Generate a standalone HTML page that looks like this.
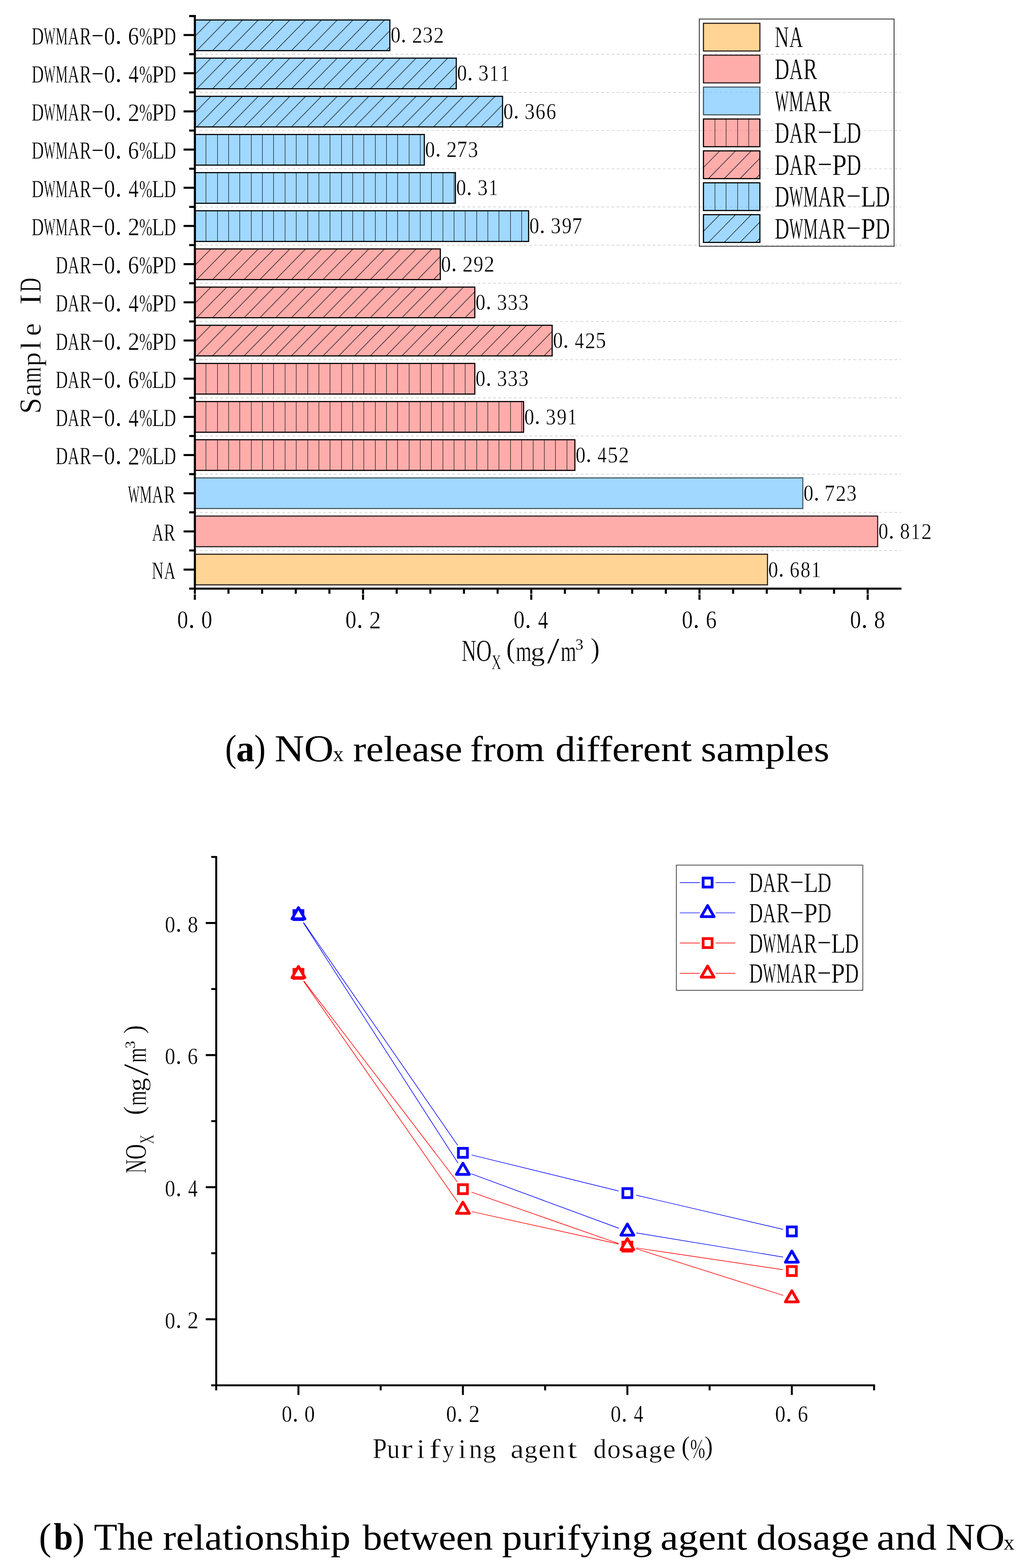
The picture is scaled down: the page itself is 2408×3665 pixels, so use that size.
<!DOCTYPE html>
<html lang="en">
<head>
<meta charset="utf-8">
<title>NOx release from different samples</title>
<style>
html,body{margin:0;padding:0;background:#fff}
body{width:2408px;height:3665px;overflow:hidden}
svg{display:block}
svg text{font-family:"Liberation Serif","Noto Serif CJK SC",serif;white-space:pre}
</style>
</head>
<body>
<svg width="2408" height="3665" viewBox="0 0 2408 3665">
<rect width="2408" height="3665" fill="#fff"/>
<defs>
<pattern id="hd" patternUnits="userSpaceOnUse" x="457.5" y="0" width="36.9" height="37.7"><path d="M-2 39.74L38.9 -2.04M-20.45 20.89L20.45 -20.89M16.45 58.59L57.35 16.81" stroke="#0a1014" stroke-width="1.25" fill="none"/></pattern>
</defs>
<g id="chart-a">
<rect x="455.5" y="45.45" width="457.18" height="74.2" fill="#a1d8ff"/>
<g transform="translate(0,45.45)"><rect x="455.5" y="1" width="456.18" height="72.2" fill="url(#hd)"/></g>
<rect x="456.8" y="46.75" width="454.58" height="71.6" fill="none" stroke="#000" stroke-width="2.6"/>
<rect x="455.5" y="134.64" width="612.52" height="74.2" fill="#a1d8ff"/>
<g transform="translate(0,134.64)"><rect x="455.5" y="1" width="611.52" height="72.2" fill="url(#hd)"/></g>
<rect x="456.8" y="135.94" width="609.92" height="71.6" fill="none" stroke="#000" stroke-width="2.6"/>
<rect x="455.5" y="223.83" width="720.67" height="74.2" fill="#a1d8ff"/>
<g transform="translate(0,223.83)"><rect x="455.5" y="1" width="719.67" height="72.2" fill="url(#hd)"/></g>
<rect x="456.8" y="225.13" width="718.07" height="71.6" fill="none" stroke="#000" stroke-width="2.6"/>
<rect x="455.5" y="313.02" width="537.8" height="74.2" fill="#a1d8ff"/>
<path d="M481.5 314.02V386.22M508.5 314.02V386.22M534.5 314.02V386.22M560.5 314.02V386.22M587.5 314.02V386.22M613.5 314.02V386.22M639.5 314.02V386.22M666.5 314.02V386.22M692.5 314.02V386.22M719.5 314.02V386.22M745.5 314.02V386.22M771.5 314.02V386.22M798.5 314.02V386.22M824.5 314.02V386.22M850.5 314.02V386.22M877.5 314.02V386.22M903.5 314.02V386.22M929.5 314.02V386.22M956.5 314.02V386.22M982.5 314.02V386.22" stroke="#0a1014" stroke-width="1.1" fill="none"/>
<rect x="456.8" y="314.32" width="535.2" height="71.6" fill="none" stroke="#000" stroke-width="2.6"/>
<rect x="455.5" y="402.21" width="610.55" height="74.2" fill="#a1d8ff"/>
<path d="M481.5 403.21V475.41M508.5 403.21V475.41M534.5 403.21V475.41M560.5 403.21V475.41M587.5 403.21V475.41M613.5 403.21V475.41M639.5 403.21V475.41M666.5 403.21V475.41M692.5 403.21V475.41M719.5 403.21V475.41M745.5 403.21V475.41M771.5 403.21V475.41M798.5 403.21V475.41M824.5 403.21V475.41M850.5 403.21V475.41M877.5 403.21V475.41M903.5 403.21V475.41M929.5 403.21V475.41M956.5 403.21V475.41M982.5 403.21V475.41M1008.5 403.21V475.41M1035.5 403.21V475.41M1061.5 403.21V475.41" stroke="#0a1014" stroke-width="1.1" fill="none"/>
<rect x="456.8" y="403.51" width="607.95" height="71.6" fill="none" stroke="#000" stroke-width="2.6"/>
<rect x="455.5" y="491.4" width="781.62" height="74.2" fill="#a1d8ff"/>
<path d="M481.5 492.4V564.6M508.5 492.4V564.6M534.5 492.4V564.6M560.5 492.4V564.6M587.5 492.4V564.6M613.5 492.4V564.6M639.5 492.4V564.6M666.5 492.4V564.6M692.5 492.4V564.6M719.5 492.4V564.6M745.5 492.4V564.6M771.5 492.4V564.6M798.5 492.4V564.6M824.5 492.4V564.6M850.5 492.4V564.6M877.5 492.4V564.6M903.5 492.4V564.6M929.5 492.4V564.6M956.5 492.4V564.6M982.5 492.4V564.6M1008.5 492.4V564.6M1035.5 492.4V564.6M1061.5 492.4V564.6M1087.5 492.4V564.6M1114.5 492.4V564.6M1140.5 492.4V564.6M1166.5 492.4V564.6M1193.5 492.4V564.6M1219.5 492.4V564.6" stroke="#0a1014" stroke-width="1.1" fill="none"/>
<rect x="456.8" y="492.7" width="779.02" height="71.6" fill="none" stroke="#000" stroke-width="2.6"/>
<rect x="455.5" y="580.59" width="575.16" height="74.2" fill="#ffadab"/>
<g transform="translate(0,580.59)"><rect x="455.5" y="1" width="574.16" height="72.2" fill="url(#hd)"/></g>
<rect x="456.8" y="581.89" width="572.56" height="71.6" fill="none" stroke="#000" stroke-width="2.6"/>
<rect x="455.5" y="669.78" width="655.78" height="74.2" fill="#ffadab"/>
<g transform="translate(0,669.78)"><rect x="455.5" y="1" width="654.78" height="72.2" fill="url(#hd)"/></g>
<rect x="456.8" y="671.08" width="653.18" height="71.6" fill="none" stroke="#000" stroke-width="2.6"/>
<rect x="455.5" y="758.97" width="836.68" height="74.2" fill="#ffadab"/>
<g transform="translate(0,758.97)"><rect x="455.5" y="1" width="835.68" height="72.2" fill="url(#hd)"/></g>
<rect x="456.8" y="760.27" width="834.08" height="71.6" fill="none" stroke="#000" stroke-width="2.6"/>
<rect x="455.5" y="848.16" width="655.78" height="74.2" fill="#ffadab"/>
<path d="M481.5 849.16V921.36M508.5 849.16V921.36M534.5 849.16V921.36M560.5 849.16V921.36M587.5 849.16V921.36M613.5 849.16V921.36M639.5 849.16V921.36M666.5 849.16V921.36M692.5 849.16V921.36M719.5 849.16V921.36M745.5 849.16V921.36M771.5 849.16V921.36M798.5 849.16V921.36M824.5 849.16V921.36M850.5 849.16V921.36M877.5 849.16V921.36M903.5 849.16V921.36M929.5 849.16V921.36M956.5 849.16V921.36M982.5 849.16V921.36M1008.5 849.16V921.36M1035.5 849.16V921.36M1061.5 849.16V921.36M1087.5 849.16V921.36" stroke="#0a1014" stroke-width="1.1" fill="none"/>
<rect x="456.8" y="849.46" width="653.18" height="71.6" fill="none" stroke="#000" stroke-width="2.6"/>
<rect x="455.5" y="937.35" width="769.82" height="74.2" fill="#ffadab"/>
<path d="M481.5 938.35V1010.55M508.5 938.35V1010.55M534.5 938.35V1010.55M560.5 938.35V1010.55M587.5 938.35V1010.55M613.5 938.35V1010.55M639.5 938.35V1010.55M666.5 938.35V1010.55M692.5 938.35V1010.55M719.5 938.35V1010.55M745.5 938.35V1010.55M771.5 938.35V1010.55M798.5 938.35V1010.55M824.5 938.35V1010.55M850.5 938.35V1010.55M877.5 938.35V1010.55M903.5 938.35V1010.55M929.5 938.35V1010.55M956.5 938.35V1010.55M982.5 938.35V1010.55M1008.5 938.35V1010.55M1035.5 938.35V1010.55M1061.5 938.35V1010.55M1087.5 938.35V1010.55M1114.5 938.35V1010.55M1140.5 938.35V1010.55M1166.5 938.35V1010.55M1193.5 938.35V1010.55M1219.5 938.35V1010.55" stroke="#0a1014" stroke-width="1.1" fill="none"/>
<rect x="456.8" y="938.65" width="767.22" height="71.6" fill="none" stroke="#000" stroke-width="2.6"/>
<rect x="455.5" y="1026.54" width="889.77" height="74.2" fill="#ffadab"/>
<path d="M481.5 1027.54V1099.74M508.5 1027.54V1099.74M534.5 1027.54V1099.74M560.5 1027.54V1099.74M587.5 1027.54V1099.74M613.5 1027.54V1099.74M639.5 1027.54V1099.74M666.5 1027.54V1099.74M692.5 1027.54V1099.74M719.5 1027.54V1099.74M745.5 1027.54V1099.74M771.5 1027.54V1099.74M798.5 1027.54V1099.74M824.5 1027.54V1099.74M850.5 1027.54V1099.74M877.5 1027.54V1099.74M903.5 1027.54V1099.74M929.5 1027.54V1099.74M956.5 1027.54V1099.74M982.5 1027.54V1099.74M1008.5 1027.54V1099.74M1035.5 1027.54V1099.74M1061.5 1027.54V1099.74M1087.5 1027.54V1099.74M1114.5 1027.54V1099.74M1140.5 1027.54V1099.74M1166.5 1027.54V1099.74M1193.5 1027.54V1099.74M1219.5 1027.54V1099.74M1246.5 1027.54V1099.74M1272.5 1027.54V1099.74M1298.5 1027.54V1099.74M1325.5 1027.54V1099.74" stroke="#0a1014" stroke-width="1.1" fill="none"/>
<rect x="456.8" y="1027.84" width="887.17" height="71.6" fill="none" stroke="#000" stroke-width="2.6"/>
<rect x="455.5" y="1115.73" width="1422.63" height="74.2" fill="#a1d8ff"/>
<rect x="456.8" y="1117.03" width="1420.03" height="71.6" fill="none" stroke="#4a5a66" stroke-width="2.6"/>
<rect x="455.5" y="1204.92" width="1597.64" height="74.2" fill="#ffadab"/>
<rect x="456.8" y="1206.22" width="1595.04" height="71.6" fill="none" stroke="#2a2020" stroke-width="2.6"/>
<rect x="455.5" y="1294.11" width="1340.05" height="74.2" fill="#ffd494"/>
<rect x="456.8" y="1295.41" width="1337.45" height="71.6" fill="none" stroke="#2a2020" stroke-width="2.6"/>
<line x1="455.25" y1="126.8" x2="2107" y2="126.8" stroke="#d2d2d2" stroke-width="1.7" stroke-dasharray="6.3 5.73"/>
<line x1="455.25" y1="216.03" x2="2107" y2="216.03" stroke="#d2d2d2" stroke-width="1.7" stroke-dasharray="6.3 5.73"/>
<line x1="455.25" y1="305.26" x2="2107" y2="305.26" stroke="#d2d2d2" stroke-width="1.7" stroke-dasharray="6.3 5.73"/>
<line x1="455.25" y1="394.49" x2="2107" y2="394.49" stroke="#d2d2d2" stroke-width="1.7" stroke-dasharray="6.3 5.73"/>
<line x1="455.25" y1="483.72" x2="2107" y2="483.72" stroke="#d2d2d2" stroke-width="1.7" stroke-dasharray="6.3 5.73"/>
<line x1="455.25" y1="572.95" x2="2107" y2="572.95" stroke="#d2d2d2" stroke-width="1.7" stroke-dasharray="6.3 5.73"/>
<line x1="455.25" y1="662.18" x2="2107" y2="662.18" stroke="#d2d2d2" stroke-width="1.7" stroke-dasharray="6.3 5.73"/>
<line x1="455.25" y1="751.41" x2="2107" y2="751.41" stroke="#d2d2d2" stroke-width="1.7" stroke-dasharray="6.3 5.73"/>
<line x1="455.25" y1="840.64" x2="2107" y2="840.64" stroke="#d2d2d2" stroke-width="1.7" stroke-dasharray="6.3 5.73"/>
<line x1="455.25" y1="929.87" x2="2107" y2="929.87" stroke="#d2d2d2" stroke-width="1.7" stroke-dasharray="6.3 5.73"/>
<line x1="455.25" y1="1019.1" x2="2107" y2="1019.1" stroke="#d2d2d2" stroke-width="1.7" stroke-dasharray="6.3 5.73"/>
<line x1="455.25" y1="1108.33" x2="2107" y2="1108.33" stroke="#d2d2d2" stroke-width="1.7" stroke-dasharray="6.3 5.73"/>
<line x1="455.25" y1="1197.56" x2="2107" y2="1197.56" stroke="#d2d2d2" stroke-width="1.7" stroke-dasharray="6.3 5.73"/>
<line x1="455.25" y1="1286.79" x2="2107" y2="1286.79" stroke="#d2d2d2" stroke-width="1.7" stroke-dasharray="6.3 5.73"/>
<g stroke="#000" stroke-width="4.8" fill="none">
<path d="M455.5 34.9V1378.3"/>
<path d="M453.1 1375.9H2107.5"/>
<path d="M429.2 81.8H455.5M429.2 171.05H455.5M429.2 260.3H455.5M429.2 349.55H455.5M429.2 438.8H455.5M429.2 528.05H455.5M429.2 617.3H455.5M429.2 706.55H455.5M429.2 795.8H455.5M429.2 885.05H455.5M429.2 974.3H455.5M429.2 1063.55H455.5M429.2 1152.8H455.5M429.2 1242.05H455.5M429.2 1331.3H455.5M442.3 37.5H455.5M442.3 126.73H455.5M442.3 215.96H455.5M442.3 305.19H455.5M442.3 394.42H455.5M442.3 483.65H455.5M442.3 572.88H455.5M442.3 662.11H455.5M442.3 751.34H455.5M442.3 840.57H455.5M442.3 929.8H455.5M442.3 1019.03H455.5M442.3 1108.26H455.5M442.3 1197.49H455.5M442.3 1286.72H455.5M442.3 1375.95H455.5M455.5 1375.9V1402M534.15 1375.9V1387.8M612.8 1375.9V1387.8M691.46 1375.9V1387.8M770.11 1375.9V1387.8M848.76 1375.9V1402M927.41 1375.9V1387.8M1006.06 1375.9V1387.8M1084.72 1375.9V1387.8M1163.37 1375.9V1387.8M1242.02 1375.9V1402M1320.67 1375.9V1387.8M1399.32 1375.9V1387.8M1477.98 1375.9V1387.8M1556.63 1375.9V1387.8M1635.28 1375.9V1402M1713.93 1375.9V1387.8M1792.58 1375.9V1387.8M1871.24 1375.9V1387.8M1949.89 1375.9V1387.8M2028.54 1375.9V1402"/>
</g>
<path d="M452.5 1388.6h6M845.76 1388.6h6M1239.02 1388.6h6M1632.28 1388.6h6M2025.54 1388.6h6" stroke="#fff" stroke-width="1.3" fill="none"/>
<text font-size="58" fill="#000" stroke="#fff" stroke-width="0.5"><tspan x="73.78" y="103.7" textLength="28.58" lengthAdjust="spacingAndGlyphs">D</tspan><tspan x="102.43" y="103.7" textLength="27.06" lengthAdjust="spacingAndGlyphs">W</tspan><tspan x="129.92" y="103.7" textLength="28.56" lengthAdjust="spacingAndGlyphs">M</tspan><tspan x="158.87" y="103.7" textLength="26.48" lengthAdjust="spacingAndGlyphs">A</tspan><tspan x="186.15" y="103.7" textLength="27.08" lengthAdjust="spacingAndGlyphs">R</tspan><tspan x="212.63" y="92.93" textLength="31.34" lengthAdjust="spacingAndGlyphs" font-size="41.37">-</tspan><tspan x="243.25" y="103.55" textLength="25.69" lengthAdjust="spacingAndGlyphs" font-size="58.3">0</tspan><tspan x="269.37" y="103.04" textLength="15.46" lengthAdjust="spacingAndGlyphs" font-size="66.59">.</tspan><tspan x="299.22" y="103.55" textLength="25.49" lengthAdjust="spacingAndGlyphs" font-size="58.55">6</tspan><tspan x="325.44" y="103.5" textLength="30.61" lengthAdjust="spacingAndGlyphs" font-size="57.59">%</tspan><tspan x="354.43" y="103.7" textLength="28.86" lengthAdjust="spacingAndGlyphs">P</tspan><tspan x="382.88" y="103.7" textLength="28.58" lengthAdjust="spacingAndGlyphs">D</tspan></text>
<text font-size="58" fill="#000" stroke="#fff" stroke-width="0.5"><tspan x="73.78" y="192.95" textLength="28.58" lengthAdjust="spacingAndGlyphs">D</tspan><tspan x="102.43" y="192.95" textLength="27.06" lengthAdjust="spacingAndGlyphs">W</tspan><tspan x="129.92" y="192.95" textLength="28.56" lengthAdjust="spacingAndGlyphs">M</tspan><tspan x="158.87" y="192.95" textLength="26.48" lengthAdjust="spacingAndGlyphs">A</tspan><tspan x="186.15" y="192.95" textLength="27.08" lengthAdjust="spacingAndGlyphs">R</tspan><tspan x="212.63" y="182.18" textLength="31.34" lengthAdjust="spacingAndGlyphs" font-size="41.37">-</tspan><tspan x="243.25" y="192.8" textLength="25.69" lengthAdjust="spacingAndGlyphs" font-size="58.3">0</tspan><tspan x="269.37" y="192.29" textLength="15.46" lengthAdjust="spacingAndGlyphs" font-size="66.59">.</tspan><tspan x="300.49" y="193.37" textLength="23.42" lengthAdjust="spacingAndGlyphs" font-size="59.77">4</tspan><tspan x="325.44" y="192.75" textLength="30.61" lengthAdjust="spacingAndGlyphs" font-size="57.59">%</tspan><tspan x="354.43" y="192.95" textLength="28.86" lengthAdjust="spacingAndGlyphs">P</tspan><tspan x="382.88" y="192.95" textLength="28.58" lengthAdjust="spacingAndGlyphs">D</tspan></text>
<text font-size="58" fill="#000" stroke="#fff" stroke-width="0.5"><tspan x="73.78" y="282.2" textLength="28.58" lengthAdjust="spacingAndGlyphs">D</tspan><tspan x="102.43" y="282.2" textLength="27.06" lengthAdjust="spacingAndGlyphs">W</tspan><tspan x="129.92" y="282.2" textLength="28.56" lengthAdjust="spacingAndGlyphs">M</tspan><tspan x="158.87" y="282.2" textLength="26.48" lengthAdjust="spacingAndGlyphs">A</tspan><tspan x="186.15" y="282.2" textLength="27.08" lengthAdjust="spacingAndGlyphs">R</tspan><tspan x="212.63" y="271.43" textLength="31.34" lengthAdjust="spacingAndGlyphs" font-size="41.37">-</tspan><tspan x="243.25" y="282.05" textLength="25.69" lengthAdjust="spacingAndGlyphs" font-size="58.3">0</tspan><tspan x="269.37" y="281.54" textLength="15.46" lengthAdjust="spacingAndGlyphs" font-size="66.59">.</tspan><tspan x="299.02" y="282.62" textLength="27.16" lengthAdjust="spacingAndGlyphs" font-size="59.42">2</tspan><tspan x="325.44" y="282" textLength="30.61" lengthAdjust="spacingAndGlyphs" font-size="57.59">%</tspan><tspan x="354.43" y="282.2" textLength="28.86" lengthAdjust="spacingAndGlyphs">P</tspan><tspan x="382.88" y="282.2" textLength="28.58" lengthAdjust="spacingAndGlyphs">D</tspan></text>
<text font-size="58" fill="#000" stroke="#fff" stroke-width="0.5"><tspan x="73.78" y="371.45" textLength="28.58" lengthAdjust="spacingAndGlyphs">D</tspan><tspan x="102.43" y="371.45" textLength="27.06" lengthAdjust="spacingAndGlyphs">W</tspan><tspan x="129.92" y="371.45" textLength="28.56" lengthAdjust="spacingAndGlyphs">M</tspan><tspan x="158.87" y="371.45" textLength="26.48" lengthAdjust="spacingAndGlyphs">A</tspan><tspan x="186.15" y="371.45" textLength="27.08" lengthAdjust="spacingAndGlyphs">R</tspan><tspan x="212.63" y="360.68" textLength="31.34" lengthAdjust="spacingAndGlyphs" font-size="41.37">-</tspan><tspan x="243.25" y="371.3" textLength="25.69" lengthAdjust="spacingAndGlyphs" font-size="58.3">0</tspan><tspan x="269.37" y="370.79" textLength="15.46" lengthAdjust="spacingAndGlyphs" font-size="66.59">.</tspan><tspan x="299.22" y="371.3" textLength="25.49" lengthAdjust="spacingAndGlyphs" font-size="58.55">6</tspan><tspan x="325.44" y="371.25" textLength="30.61" lengthAdjust="spacingAndGlyphs" font-size="57.59">%</tspan><tspan x="354.81" y="371.45" textLength="29.6" lengthAdjust="spacingAndGlyphs">L</tspan><tspan x="382.88" y="371.45" textLength="28.58" lengthAdjust="spacingAndGlyphs">D</tspan></text>
<text font-size="58" fill="#000" stroke="#fff" stroke-width="0.5"><tspan x="73.78" y="460.7" textLength="28.58" lengthAdjust="spacingAndGlyphs">D</tspan><tspan x="102.43" y="460.7" textLength="27.06" lengthAdjust="spacingAndGlyphs">W</tspan><tspan x="129.92" y="460.7" textLength="28.56" lengthAdjust="spacingAndGlyphs">M</tspan><tspan x="158.87" y="460.7" textLength="26.48" lengthAdjust="spacingAndGlyphs">A</tspan><tspan x="186.15" y="460.7" textLength="27.08" lengthAdjust="spacingAndGlyphs">R</tspan><tspan x="212.63" y="449.93" textLength="31.34" lengthAdjust="spacingAndGlyphs" font-size="41.37">-</tspan><tspan x="243.25" y="460.55" textLength="25.69" lengthAdjust="spacingAndGlyphs" font-size="58.3">0</tspan><tspan x="269.37" y="460.04" textLength="15.46" lengthAdjust="spacingAndGlyphs" font-size="66.59">.</tspan><tspan x="300.49" y="461.12" textLength="23.42" lengthAdjust="spacingAndGlyphs" font-size="59.77">4</tspan><tspan x="325.44" y="460.5" textLength="30.61" lengthAdjust="spacingAndGlyphs" font-size="57.59">%</tspan><tspan x="354.81" y="460.7" textLength="29.6" lengthAdjust="spacingAndGlyphs">L</tspan><tspan x="382.88" y="460.7" textLength="28.58" lengthAdjust="spacingAndGlyphs">D</tspan></text>
<text font-size="58" fill="#000" stroke="#fff" stroke-width="0.5"><tspan x="73.78" y="549.95" textLength="28.58" lengthAdjust="spacingAndGlyphs">D</tspan><tspan x="102.43" y="549.95" textLength="27.06" lengthAdjust="spacingAndGlyphs">W</tspan><tspan x="129.92" y="549.95" textLength="28.56" lengthAdjust="spacingAndGlyphs">M</tspan><tspan x="158.87" y="549.95" textLength="26.48" lengthAdjust="spacingAndGlyphs">A</tspan><tspan x="186.15" y="549.95" textLength="27.08" lengthAdjust="spacingAndGlyphs">R</tspan><tspan x="212.63" y="539.18" textLength="31.34" lengthAdjust="spacingAndGlyphs" font-size="41.37">-</tspan><tspan x="243.25" y="549.8" textLength="25.69" lengthAdjust="spacingAndGlyphs" font-size="58.3">0</tspan><tspan x="269.37" y="549.29" textLength="15.46" lengthAdjust="spacingAndGlyphs" font-size="66.59">.</tspan><tspan x="299.02" y="550.37" textLength="27.16" lengthAdjust="spacingAndGlyphs" font-size="59.42">2</tspan><tspan x="325.44" y="549.75" textLength="30.61" lengthAdjust="spacingAndGlyphs" font-size="57.59">%</tspan><tspan x="354.81" y="549.95" textLength="29.6" lengthAdjust="spacingAndGlyphs">L</tspan><tspan x="382.88" y="549.95" textLength="28.58" lengthAdjust="spacingAndGlyphs">D</tspan></text>
<text font-size="58" fill="#000" stroke="#fff" stroke-width="0.5"><tspan x="129.98" y="639.2" textLength="28.58" lengthAdjust="spacingAndGlyphs">D</tspan><tspan x="158.87" y="639.2" textLength="26.48" lengthAdjust="spacingAndGlyphs">A</tspan><tspan x="186.15" y="639.2" textLength="27.08" lengthAdjust="spacingAndGlyphs">R</tspan><tspan x="212.63" y="628.43" textLength="31.34" lengthAdjust="spacingAndGlyphs" font-size="41.37">-</tspan><tspan x="243.25" y="639.05" textLength="25.69" lengthAdjust="spacingAndGlyphs" font-size="58.3">0</tspan><tspan x="269.37" y="638.54" textLength="15.46" lengthAdjust="spacingAndGlyphs" font-size="66.59">.</tspan><tspan x="299.22" y="639.05" textLength="25.49" lengthAdjust="spacingAndGlyphs" font-size="58.55">6</tspan><tspan x="325.44" y="639" textLength="30.61" lengthAdjust="spacingAndGlyphs" font-size="57.59">%</tspan><tspan x="354.43" y="639.2" textLength="28.86" lengthAdjust="spacingAndGlyphs">P</tspan><tspan x="382.88" y="639.2" textLength="28.58" lengthAdjust="spacingAndGlyphs">D</tspan></text>
<text font-size="58" fill="#000" stroke="#fff" stroke-width="0.5"><tspan x="129.98" y="728.45" textLength="28.58" lengthAdjust="spacingAndGlyphs">D</tspan><tspan x="158.87" y="728.45" textLength="26.48" lengthAdjust="spacingAndGlyphs">A</tspan><tspan x="186.15" y="728.45" textLength="27.08" lengthAdjust="spacingAndGlyphs">R</tspan><tspan x="212.63" y="717.68" textLength="31.34" lengthAdjust="spacingAndGlyphs" font-size="41.37">-</tspan><tspan x="243.25" y="728.3" textLength="25.69" lengthAdjust="spacingAndGlyphs" font-size="58.3">0</tspan><tspan x="269.37" y="727.79" textLength="15.46" lengthAdjust="spacingAndGlyphs" font-size="66.59">.</tspan><tspan x="300.49" y="728.87" textLength="23.42" lengthAdjust="spacingAndGlyphs" font-size="59.77">4</tspan><tspan x="325.44" y="728.25" textLength="30.61" lengthAdjust="spacingAndGlyphs" font-size="57.59">%</tspan><tspan x="354.43" y="728.45" textLength="28.86" lengthAdjust="spacingAndGlyphs">P</tspan><tspan x="382.88" y="728.45" textLength="28.58" lengthAdjust="spacingAndGlyphs">D</tspan></text>
<text font-size="58" fill="#000" stroke="#fff" stroke-width="0.5"><tspan x="129.98" y="817.7" textLength="28.58" lengthAdjust="spacingAndGlyphs">D</tspan><tspan x="158.87" y="817.7" textLength="26.48" lengthAdjust="spacingAndGlyphs">A</tspan><tspan x="186.15" y="817.7" textLength="27.08" lengthAdjust="spacingAndGlyphs">R</tspan><tspan x="212.63" y="806.93" textLength="31.34" lengthAdjust="spacingAndGlyphs" font-size="41.37">-</tspan><tspan x="243.25" y="817.55" textLength="25.69" lengthAdjust="spacingAndGlyphs" font-size="58.3">0</tspan><tspan x="269.37" y="817.04" textLength="15.46" lengthAdjust="spacingAndGlyphs" font-size="66.59">.</tspan><tspan x="299.02" y="818.12" textLength="27.16" lengthAdjust="spacingAndGlyphs" font-size="59.42">2</tspan><tspan x="325.44" y="817.5" textLength="30.61" lengthAdjust="spacingAndGlyphs" font-size="57.59">%</tspan><tspan x="354.43" y="817.7" textLength="28.86" lengthAdjust="spacingAndGlyphs">P</tspan><tspan x="382.88" y="817.7" textLength="28.58" lengthAdjust="spacingAndGlyphs">D</tspan></text>
<text font-size="58" fill="#000" stroke="#fff" stroke-width="0.5"><tspan x="129.98" y="906.95" textLength="28.58" lengthAdjust="spacingAndGlyphs">D</tspan><tspan x="158.87" y="906.95" textLength="26.48" lengthAdjust="spacingAndGlyphs">A</tspan><tspan x="186.15" y="906.95" textLength="27.08" lengthAdjust="spacingAndGlyphs">R</tspan><tspan x="212.63" y="896.18" textLength="31.34" lengthAdjust="spacingAndGlyphs" font-size="41.37">-</tspan><tspan x="243.25" y="906.8" textLength="25.69" lengthAdjust="spacingAndGlyphs" font-size="58.3">0</tspan><tspan x="269.37" y="906.29" textLength="15.46" lengthAdjust="spacingAndGlyphs" font-size="66.59">.</tspan><tspan x="299.22" y="906.8" textLength="25.49" lengthAdjust="spacingAndGlyphs" font-size="58.55">6</tspan><tspan x="325.44" y="906.75" textLength="30.61" lengthAdjust="spacingAndGlyphs" font-size="57.59">%</tspan><tspan x="354.81" y="906.95" textLength="29.6" lengthAdjust="spacingAndGlyphs">L</tspan><tspan x="382.88" y="906.95" textLength="28.58" lengthAdjust="spacingAndGlyphs">D</tspan></text>
<text font-size="58" fill="#000" stroke="#fff" stroke-width="0.5"><tspan x="129.98" y="996.2" textLength="28.58" lengthAdjust="spacingAndGlyphs">D</tspan><tspan x="158.87" y="996.2" textLength="26.48" lengthAdjust="spacingAndGlyphs">A</tspan><tspan x="186.15" y="996.2" textLength="27.08" lengthAdjust="spacingAndGlyphs">R</tspan><tspan x="212.63" y="985.43" textLength="31.34" lengthAdjust="spacingAndGlyphs" font-size="41.37">-</tspan><tspan x="243.25" y="996.05" textLength="25.69" lengthAdjust="spacingAndGlyphs" font-size="58.3">0</tspan><tspan x="269.37" y="995.54" textLength="15.46" lengthAdjust="spacingAndGlyphs" font-size="66.59">.</tspan><tspan x="300.49" y="996.62" textLength="23.42" lengthAdjust="spacingAndGlyphs" font-size="59.77">4</tspan><tspan x="325.44" y="996" textLength="30.61" lengthAdjust="spacingAndGlyphs" font-size="57.59">%</tspan><tspan x="354.81" y="996.2" textLength="29.6" lengthAdjust="spacingAndGlyphs">L</tspan><tspan x="382.88" y="996.2" textLength="28.58" lengthAdjust="spacingAndGlyphs">D</tspan></text>
<text font-size="58" fill="#000" stroke="#fff" stroke-width="0.5"><tspan x="129.98" y="1085.45" textLength="28.58" lengthAdjust="spacingAndGlyphs">D</tspan><tspan x="158.87" y="1085.45" textLength="26.48" lengthAdjust="spacingAndGlyphs">A</tspan><tspan x="186.15" y="1085.45" textLength="27.08" lengthAdjust="spacingAndGlyphs">R</tspan><tspan x="212.63" y="1074.68" textLength="31.34" lengthAdjust="spacingAndGlyphs" font-size="41.37">-</tspan><tspan x="243.25" y="1085.3" textLength="25.69" lengthAdjust="spacingAndGlyphs" font-size="58.3">0</tspan><tspan x="269.37" y="1084.79" textLength="15.46" lengthAdjust="spacingAndGlyphs" font-size="66.59">.</tspan><tspan x="299.02" y="1085.87" textLength="27.16" lengthAdjust="spacingAndGlyphs" font-size="59.42">2</tspan><tspan x="325.44" y="1085.25" textLength="30.61" lengthAdjust="spacingAndGlyphs" font-size="57.59">%</tspan><tspan x="354.81" y="1085.45" textLength="29.6" lengthAdjust="spacingAndGlyphs">L</tspan><tspan x="382.88" y="1085.45" textLength="28.58" lengthAdjust="spacingAndGlyphs">D</tspan></text>
<text font-size="58" fill="#000" stroke="#fff" stroke-width="0.5"><tspan x="299.13" y="1174.7" textLength="27.06" lengthAdjust="spacingAndGlyphs">W</tspan><tspan x="326.62" y="1174.7" textLength="28.56" lengthAdjust="spacingAndGlyphs">M</tspan><tspan x="355.57" y="1174.7" textLength="26.48" lengthAdjust="spacingAndGlyphs">A</tspan><tspan x="382.85" y="1174.7" textLength="27.08" lengthAdjust="spacingAndGlyphs">R</tspan></text>
<text font-size="58" fill="#000" stroke="#fff" stroke-width="0.5"><tspan x="355.57" y="1263.95" textLength="26.48" lengthAdjust="spacingAndGlyphs">A</tspan><tspan x="382.85" y="1263.95" textLength="27.08" lengthAdjust="spacingAndGlyphs">R</tspan></text>
<text font-size="58" fill="#000" stroke="#fff" stroke-width="0.5"><tspan x="354.81" y="1353.2" textLength="27.85" lengthAdjust="spacingAndGlyphs">N</tspan><tspan x="383.67" y="1353.2" textLength="26.48" lengthAdjust="spacingAndGlyphs">A</tspan></text>
<text font-size="52.01" fill="#000" stroke="#fff" stroke-width="0.5"><tspan x="913.15" y="99.17" textLength="23.04" lengthAdjust="spacingAndGlyphs" font-size="52.28">0</tspan><tspan x="936.57" y="98.71" textLength="13.86" lengthAdjust="spacingAndGlyphs" font-size="59.71">.</tspan><tspan x="963.16" y="99.68" textLength="24.36" lengthAdjust="spacingAndGlyphs" font-size="53.28">2</tspan><tspan x="988.24" y="99.17" textLength="23.64" lengthAdjust="spacingAndGlyphs" font-size="52.51">3</tspan><tspan x="1013.56" y="99.68" textLength="24.36" lengthAdjust="spacingAndGlyphs" font-size="53.28">2</tspan></text>
<text font-size="52.01" fill="#000" stroke="#fff" stroke-width="0.5"><tspan x="1068.48" y="188.42" textLength="23.04" lengthAdjust="spacingAndGlyphs" font-size="52.28">0</tspan><tspan x="1091.91" y="187.96" textLength="13.86" lengthAdjust="spacingAndGlyphs" font-size="59.71">.</tspan><tspan x="1118.38" y="188.42" textLength="23.64" lengthAdjust="spacingAndGlyphs" font-size="52.51">3</tspan><tspan x="1144.58" y="188.68" textLength="21.47" lengthAdjust="spacingAndGlyphs" font-size="52.87">1</tspan><tspan x="1169.78" y="188.68" textLength="21.47" lengthAdjust="spacingAndGlyphs" font-size="52.87">1</tspan></text>
<text font-size="52.01" fill="#000" stroke="#fff" stroke-width="0.5"><tspan x="1176.63" y="277.67" textLength="23.04" lengthAdjust="spacingAndGlyphs" font-size="52.28">0</tspan><tspan x="1200.06" y="277.21" textLength="13.86" lengthAdjust="spacingAndGlyphs" font-size="59.71">.</tspan><tspan x="1226.52" y="277.67" textLength="23.64" lengthAdjust="spacingAndGlyphs" font-size="52.51">3</tspan><tspan x="1252.02" y="277.67" textLength="22.86" lengthAdjust="spacingAndGlyphs" font-size="52.51">6</tspan><tspan x="1277.22" y="277.67" textLength="22.86" lengthAdjust="spacingAndGlyphs" font-size="52.51">6</tspan></text>
<text font-size="52.01" fill="#000" stroke="#fff" stroke-width="0.5"><tspan x="993.76" y="366.92" textLength="23.04" lengthAdjust="spacingAndGlyphs" font-size="52.28">0</tspan><tspan x="1017.19" y="366.46" textLength="13.86" lengthAdjust="spacingAndGlyphs" font-size="59.71">.</tspan><tspan x="1043.78" y="367.43" textLength="24.36" lengthAdjust="spacingAndGlyphs" font-size="53.28">2</tspan><tspan x="1067.94" y="367.43" textLength="24.09" lengthAdjust="spacingAndGlyphs" font-size="53.88">7</tspan><tspan x="1094.06" y="366.92" textLength="23.64" lengthAdjust="spacingAndGlyphs" font-size="52.51">3</tspan></text>
<text font-size="52.01" fill="#000" stroke="#fff" stroke-width="0.5"><tspan x="1066.52" y="456.17" textLength="23.04" lengthAdjust="spacingAndGlyphs" font-size="52.28">0</tspan><tspan x="1089.94" y="455.71" textLength="13.86" lengthAdjust="spacingAndGlyphs" font-size="59.71">.</tspan><tspan x="1116.41" y="456.17" textLength="23.64" lengthAdjust="spacingAndGlyphs" font-size="52.51">3</tspan><tspan x="1142.62" y="456.43" textLength="21.47" lengthAdjust="spacingAndGlyphs" font-size="52.87">1</tspan></text>
<text font-size="52.01" fill="#000" stroke="#fff" stroke-width="0.5"><tspan x="1237.59" y="545.42" textLength="23.04" lengthAdjust="spacingAndGlyphs" font-size="52.28">0</tspan><tspan x="1261.01" y="544.96" textLength="13.86" lengthAdjust="spacingAndGlyphs" font-size="59.71">.</tspan><tspan x="1287.48" y="545.42" textLength="23.64" lengthAdjust="spacingAndGlyphs" font-size="52.51">3</tspan><tspan x="1313.47" y="545.42" textLength="22.88" lengthAdjust="spacingAndGlyphs" font-size="52.51">9</tspan><tspan x="1336.96" y="545.93" textLength="24.09" lengthAdjust="spacingAndGlyphs" font-size="53.88">7</tspan></text>
<text font-size="52.01" fill="#000" stroke="#fff" stroke-width="0.5"><tspan x="1031.12" y="634.67" textLength="23.04" lengthAdjust="spacingAndGlyphs" font-size="52.28">0</tspan><tspan x="1054.55" y="634.21" textLength="13.86" lengthAdjust="spacingAndGlyphs" font-size="59.71">.</tspan><tspan x="1081.14" y="635.18" textLength="24.36" lengthAdjust="spacingAndGlyphs" font-size="53.28">2</tspan><tspan x="1107" y="634.67" textLength="22.88" lengthAdjust="spacingAndGlyphs" font-size="52.51">9</tspan><tspan x="1131.54" y="635.18" textLength="24.36" lengthAdjust="spacingAndGlyphs" font-size="53.28">2</tspan></text>
<text font-size="52.01" fill="#000" stroke="#fff" stroke-width="0.5"><tspan x="1111.74" y="723.92" textLength="23.04" lengthAdjust="spacingAndGlyphs" font-size="52.28">0</tspan><tspan x="1135.17" y="723.46" textLength="13.86" lengthAdjust="spacingAndGlyphs" font-size="59.71">.</tspan><tspan x="1161.64" y="723.92" textLength="23.64" lengthAdjust="spacingAndGlyphs" font-size="52.51">3</tspan><tspan x="1186.84" y="723.92" textLength="23.64" lengthAdjust="spacingAndGlyphs" font-size="52.51">3</tspan><tspan x="1212.04" y="723.92" textLength="23.64" lengthAdjust="spacingAndGlyphs" font-size="52.51">3</tspan></text>
<text font-size="52.01" fill="#000" stroke="#fff" stroke-width="0.5"><tspan x="1292.64" y="813.17" textLength="23.04" lengthAdjust="spacingAndGlyphs" font-size="52.28">0</tspan><tspan x="1316.07" y="812.71" textLength="13.86" lengthAdjust="spacingAndGlyphs" font-size="59.71">.</tspan><tspan x="1343.98" y="813.68" textLength="21.01" lengthAdjust="spacingAndGlyphs" font-size="53.6">4</tspan><tspan x="1367.86" y="813.68" textLength="24.36" lengthAdjust="spacingAndGlyphs" font-size="53.28">2</tspan><tspan x="1392.38" y="813.16" textLength="24.24" lengthAdjust="spacingAndGlyphs" font-size="53.09">5</tspan></text>
<text font-size="52.01" fill="#000" stroke="#fff" stroke-width="0.5"><tspan x="1111.74" y="902.42" textLength="23.04" lengthAdjust="spacingAndGlyphs" font-size="52.28">0</tspan><tspan x="1135.17" y="901.96" textLength="13.86" lengthAdjust="spacingAndGlyphs" font-size="59.71">.</tspan><tspan x="1161.64" y="902.42" textLength="23.64" lengthAdjust="spacingAndGlyphs" font-size="52.51">3</tspan><tspan x="1186.84" y="902.42" textLength="23.64" lengthAdjust="spacingAndGlyphs" font-size="52.51">3</tspan><tspan x="1212.04" y="902.42" textLength="23.64" lengthAdjust="spacingAndGlyphs" font-size="52.51">3</tspan></text>
<text font-size="52.01" fill="#000" stroke="#fff" stroke-width="0.5"><tspan x="1225.79" y="991.67" textLength="23.04" lengthAdjust="spacingAndGlyphs" font-size="52.28">0</tspan><tspan x="1249.21" y="991.21" textLength="13.86" lengthAdjust="spacingAndGlyphs" font-size="59.71">.</tspan><tspan x="1275.68" y="991.67" textLength="23.64" lengthAdjust="spacingAndGlyphs" font-size="52.51">3</tspan><tspan x="1301.67" y="991.67" textLength="22.88" lengthAdjust="spacingAndGlyphs" font-size="52.51">9</tspan><tspan x="1327.09" y="991.93" textLength="21.47" lengthAdjust="spacingAndGlyphs" font-size="52.87">1</tspan></text>
<text font-size="52.01" fill="#000" stroke="#fff" stroke-width="0.5"><tspan x="1345.73" y="1080.92" textLength="23.04" lengthAdjust="spacingAndGlyphs" font-size="52.28">0</tspan><tspan x="1369.16" y="1080.46" textLength="13.86" lengthAdjust="spacingAndGlyphs" font-size="59.71">.</tspan><tspan x="1397.07" y="1081.43" textLength="21.01" lengthAdjust="spacingAndGlyphs" font-size="53.6">4</tspan><tspan x="1420.27" y="1080.91" textLength="24.24" lengthAdjust="spacingAndGlyphs" font-size="53.09">5</tspan><tspan x="1446.15" y="1081.43" textLength="24.36" lengthAdjust="spacingAndGlyphs" font-size="53.28">2</tspan></text>
<text font-size="52.01" fill="#000" stroke="#fff" stroke-width="0.5"><tspan x="1878.6" y="1170.17" textLength="23.04" lengthAdjust="spacingAndGlyphs" font-size="52.28">0</tspan><tspan x="1902.03" y="1169.71" textLength="13.86" lengthAdjust="spacingAndGlyphs" font-size="59.71">.</tspan><tspan x="1927.58" y="1170.68" textLength="24.09" lengthAdjust="spacingAndGlyphs" font-size="53.88">7</tspan><tspan x="1953.81" y="1170.68" textLength="24.36" lengthAdjust="spacingAndGlyphs" font-size="53.28">2</tspan><tspan x="1978.89" y="1170.17" textLength="23.64" lengthAdjust="spacingAndGlyphs" font-size="52.51">3</tspan></text>
<text font-size="52.01" fill="#000" stroke="#fff" stroke-width="0.5"><tspan x="2053.6" y="1259.42" textLength="23.04" lengthAdjust="spacingAndGlyphs" font-size="52.28">0</tspan><tspan x="2077.03" y="1258.96" textLength="13.86" lengthAdjust="spacingAndGlyphs" font-size="59.71">.</tspan><tspan x="2104" y="1259.42" textLength="23.04" lengthAdjust="spacingAndGlyphs" font-size="52.28">8</tspan><tspan x="2129.7" y="1259.68" textLength="21.47" lengthAdjust="spacingAndGlyphs" font-size="52.87">1</tspan><tspan x="2154.01" y="1259.93" textLength="24.36" lengthAdjust="spacingAndGlyphs" font-size="53.28">2</tspan></text>
<text font-size="52.01" fill="#000" stroke="#fff" stroke-width="0.5"><tspan x="1796.02" y="1348.67" textLength="23.04" lengthAdjust="spacingAndGlyphs" font-size="52.28">0</tspan><tspan x="1819.44" y="1348.21" textLength="13.86" lengthAdjust="spacingAndGlyphs" font-size="59.71">.</tspan><tspan x="1846.21" y="1348.67" textLength="22.86" lengthAdjust="spacingAndGlyphs" font-size="52.51">6</tspan><tspan x="1871.62" y="1348.67" textLength="23.04" lengthAdjust="spacingAndGlyphs" font-size="52.28">8</tspan><tspan x="1897.32" y="1348.93" textLength="21.47" lengthAdjust="spacingAndGlyphs" font-size="52.87">1</tspan></text>
<text font-size="58" fill="#000" stroke="#fff" stroke-width="0.5"><tspan x="414.2" y="1468.15" textLength="25.69" lengthAdjust="spacingAndGlyphs" font-size="58.3">0</tspan><tspan x="440.32" y="1467.64" textLength="15.46" lengthAdjust="spacingAndGlyphs" font-size="66.59">.</tspan><tspan x="470.4" y="1468.15" textLength="25.69" lengthAdjust="spacingAndGlyphs" font-size="58.3">0</tspan></text>
<text font-size="58" fill="#000" stroke="#fff" stroke-width="0.5"><tspan x="807.46" y="1468.15" textLength="25.69" lengthAdjust="spacingAndGlyphs" font-size="58.3">0</tspan><tspan x="833.58" y="1467.64" textLength="15.46" lengthAdjust="spacingAndGlyphs" font-size="66.59">.</tspan><tspan x="863.23" y="1468.72" textLength="27.16" lengthAdjust="spacingAndGlyphs" font-size="59.42">2</tspan></text>
<text font-size="58" fill="#000" stroke="#fff" stroke-width="0.5"><tspan x="1200.72" y="1468.15" textLength="25.69" lengthAdjust="spacingAndGlyphs" font-size="58.3">0</tspan><tspan x="1226.84" y="1467.64" textLength="15.46" lengthAdjust="spacingAndGlyphs" font-size="66.59">.</tspan><tspan x="1257.96" y="1468.72" textLength="23.42" lengthAdjust="spacingAndGlyphs" font-size="59.77">4</tspan></text>
<text font-size="58" fill="#000" stroke="#fff" stroke-width="0.5"><tspan x="1593.98" y="1468.15" textLength="25.69" lengthAdjust="spacingAndGlyphs" font-size="58.3">0</tspan><tspan x="1620.1" y="1467.64" textLength="15.46" lengthAdjust="spacingAndGlyphs" font-size="66.59">.</tspan><tspan x="1649.95" y="1468.15" textLength="25.49" lengthAdjust="spacingAndGlyphs" font-size="58.55">6</tspan></text>
<text font-size="58" fill="#000" stroke="#fff" stroke-width="0.5"><tspan x="1987.24" y="1468.15" textLength="25.69" lengthAdjust="spacingAndGlyphs" font-size="58.3">0</tspan><tspan x="2013.36" y="1467.64" textLength="15.46" lengthAdjust="spacingAndGlyphs" font-size="66.59">.</tspan><tspan x="2043.44" y="1468.15" textLength="25.69" lengthAdjust="spacingAndGlyphs" font-size="58.3">8</tspan></text>
<text font-size="71.93" fill="#000" stroke="#fff" stroke-width="0.65"><tspan x="1079.02" y="1545.2" textLength="34.54" lengthAdjust="spacingAndGlyphs">N</tspan><tspan x="1113.19" y="1545.2" textLength="36.17" lengthAdjust="spacingAndGlyphs">O</tspan><tspan x="1148.94" y="1564.2" textLength="22.91" lengthAdjust="spacingAndGlyphs" font-size="47.83">X</tspan><tspan x="1183.3" y="1537.85" textLength="21.69" lengthAdjust="spacingAndGlyphs" font-size="67.26">(</tspan><tspan x="1206.09" y="1545.2" textLength="36.57" lengthAdjust="spacingAndGlyphs" font-size="67.61">m</tspan><tspan x="1240.45" y="1543.95" textLength="33.42" lengthAdjust="spacingAndGlyphs" font-size="60.71">g</tspan><tspan x="1278.86" y="1549.94" textLength="29.27" lengthAdjust="spacingAndGlyphs" font-size="85.96">/</tspan><tspan x="1310.64" y="1545.2" textLength="36.57" lengthAdjust="spacingAndGlyphs" font-size="67.61">m</tspan><tspan x="1345.53" y="1534.79" textLength="18.5" lengthAdjust="spacingAndGlyphs" font-size="60.34">³</tspan><tspan x="1380.62" y="1537.85" textLength="21.69" lengthAdjust="spacingAndGlyphs" font-size="67.26">)</tspan></text>
<text font-size="72.65" fill="#000" transform="translate(95.2,964.5) rotate(-90)" stroke="#fff" stroke-width="0.65"><tspan x="-2.82" y="0" textLength="37.48" lengthAdjust="spacingAndGlyphs">S</tspan><tspan x="37.3" y="0" textLength="31.25" lengthAdjust="spacingAndGlyphs" font-size="68.29">a</tspan><tspan x="69.4" y="0" textLength="36.94" lengthAdjust="spacingAndGlyphs" font-size="68.29">m</tspan><tspan x="108.05" y="-1.4" textLength="33.24" lengthAdjust="spacingAndGlyphs" font-size="62.78">p</tspan><tspan x="146.92" y="0" textLength="19.92" lengthAdjust="spacingAndGlyphs" font-size="68.29">l</tspan><tspan x="179.17" y="0" textLength="29.97" lengthAdjust="spacingAndGlyphs" font-size="68.29">e</tspan><tspan x="211.2" y="0"> </tspan><tspan x="251.96" y="0" textLength="25.4" lengthAdjust="spacingAndGlyphs">I</tspan><tspan x="281.85" y="0" textLength="33.46" lengthAdjust="spacingAndGlyphs">D</tspan></text>
<rect x="1634.8" y="44.5" width="455.5" height="531.1" fill="none" stroke="#000" stroke-width="1.6"/>
<rect x="1643.3" y="53.1" width="134.5" height="67.4" fill="#ffb74d" fill-opacity="0.6"/>
<rect x="1644.6" y="54.4" width="131.9" height="64.8" fill="none" stroke="#2a2020" stroke-width="2.6"/>
<text font-size="69.35" fill="#000" stroke="#fff" stroke-width="0.5"><tspan x="1811.02" y="110.4" textLength="33.3" lengthAdjust="spacingAndGlyphs">N</tspan><tspan x="1845.52" y="110.4" textLength="31.66" lengthAdjust="spacingAndGlyphs">A</tspan></text>
<rect x="1643.3" y="127.67" width="134.5" height="67.4" fill="#ff7673" fill-opacity="0.6"/>
<rect x="1644.6" y="128.97" width="131.9" height="64.8" fill="none" stroke="#2a2020" stroke-width="2.6"/>
<text font-size="69.35" fill="#000" stroke="#fff" stroke-width="0.5"><tspan x="1810.98" y="184.97" textLength="34.17" lengthAdjust="spacingAndGlyphs">D</tspan><tspan x="1845.52" y="184.97" textLength="31.66" lengthAdjust="spacingAndGlyphs">A</tspan><tspan x="1878.15" y="184.97" textLength="32.38" lengthAdjust="spacingAndGlyphs">R</tspan></text>
<rect x="1643.3" y="202.24" width="134.5" height="67.4" fill="#62beff" fill-opacity="0.6"/>
<rect x="1644.6" y="203.54" width="131.9" height="64.8" fill="none" stroke="#4a5a66" stroke-width="2.6"/>
<text font-size="69.35" fill="#000" stroke="#fff" stroke-width="0.5"><tspan x="1811.64" y="259.54" textLength="32.36" lengthAdjust="spacingAndGlyphs">W</tspan><tspan x="1844.5" y="259.54" textLength="34.15" lengthAdjust="spacingAndGlyphs">M</tspan><tspan x="1879.12" y="259.54" textLength="31.66" lengthAdjust="spacingAndGlyphs">A</tspan><tspan x="1911.75" y="259.54" textLength="32.38" lengthAdjust="spacingAndGlyphs">R</tspan></text>
<rect x="1643.3" y="276.81" width="134.5" height="67.4" fill="#ff7673" fill-opacity="0.6"/>
<path d="M1671.5 276.81V344.21M1697.5 276.81V344.21M1724.5 276.81V344.21M1750.5 276.81V344.21" stroke="#0a1014" stroke-width="1.1"/>
<rect x="1644.6" y="278.11" width="131.9" height="64.8" fill="none" stroke="#000" stroke-width="2.6"/>
<text font-size="69.35" fill="#000" stroke="#fff" stroke-width="0.5"><tspan x="1810.98" y="334.11" textLength="34.17" lengthAdjust="spacingAndGlyphs">D</tspan><tspan x="1845.52" y="334.11" textLength="31.66" lengthAdjust="spacingAndGlyphs">A</tspan><tspan x="1878.15" y="334.11" textLength="32.38" lengthAdjust="spacingAndGlyphs">R</tspan><tspan x="1909.81" y="321.24" textLength="37.47" lengthAdjust="spacingAndGlyphs" font-size="49.47">-</tspan><tspan x="1945.41" y="334.11" textLength="35.39" lengthAdjust="spacingAndGlyphs">L</tspan><tspan x="1978.98" y="334.11" textLength="34.17" lengthAdjust="spacingAndGlyphs">D</tspan></text>
<rect x="1643.3" y="351.38" width="134.5" height="67.4" fill="#ff7673" fill-opacity="0.6"/>
<path d="M1643.3 355.21L1647.05 351.38M1643.3 392.92L1683.95 351.38M1654.9 418.78L1720.85 351.38M1691.8 418.78L1757.75 351.38M1728.7 418.78L1777.8 368.6M1765.6 418.78L1777.8 406.31" stroke="#0a1014" stroke-width="1.25"/>
<rect x="1644.6" y="352.68" width="131.9" height="64.8" fill="none" stroke="#000" stroke-width="2.6"/>
<text font-size="69.35" fill="#000" stroke="#fff" stroke-width="0.5"><tspan x="1810.98" y="408.68" textLength="34.17" lengthAdjust="spacingAndGlyphs">D</tspan><tspan x="1845.52" y="408.68" textLength="31.66" lengthAdjust="spacingAndGlyphs">A</tspan><tspan x="1878.15" y="408.68" textLength="32.38" lengthAdjust="spacingAndGlyphs">R</tspan><tspan x="1909.81" y="395.81" textLength="37.47" lengthAdjust="spacingAndGlyphs" font-size="49.47">-</tspan><tspan x="1944.96" y="408.68" textLength="34.51" lengthAdjust="spacingAndGlyphs">P</tspan><tspan x="1978.98" y="408.68" textLength="34.17" lengthAdjust="spacingAndGlyphs">D</tspan></text>
<rect x="1643.3" y="425.95" width="134.5" height="67.4" fill="#62beff" fill-opacity="0.6"/>
<path d="M1671.5 425.95V493.35M1697.5 425.95V493.35M1724.5 425.95V493.35M1750.5 425.95V493.35" stroke="#0a1014" stroke-width="1.1"/>
<rect x="1644.6" y="427.25" width="131.9" height="64.8" fill="none" stroke="#000" stroke-width="2.6"/>
<text font-size="69.35" fill="#000" stroke="#fff" stroke-width="0.5"><tspan x="1810.98" y="483.25" textLength="34.17" lengthAdjust="spacingAndGlyphs">D</tspan><tspan x="1845.24" y="483.25" textLength="32.36" lengthAdjust="spacingAndGlyphs">W</tspan><tspan x="1878.1" y="483.25" textLength="34.15" lengthAdjust="spacingAndGlyphs">M</tspan><tspan x="1912.72" y="483.25" textLength="31.66" lengthAdjust="spacingAndGlyphs">A</tspan><tspan x="1945.35" y="483.25" textLength="32.38" lengthAdjust="spacingAndGlyphs">R</tspan><tspan x="1977.01" y="470.38" textLength="37.47" lengthAdjust="spacingAndGlyphs" font-size="49.47">-</tspan><tspan x="2012.61" y="483.25" textLength="35.39" lengthAdjust="spacingAndGlyphs">L</tspan><tspan x="2046.18" y="483.25" textLength="34.17" lengthAdjust="spacingAndGlyphs">D</tspan></text>
<rect x="1643.3" y="500.52" width="134.5" height="67.4" fill="#62beff" fill-opacity="0.6"/>
<path d="M1643.3 504.35L1647.05 500.52M1643.3 542.06L1683.95 500.52M1654.9 567.92L1720.85 500.52M1691.8 567.92L1757.75 500.52M1728.7 567.92L1777.8 517.74M1765.6 567.92L1777.8 555.45" stroke="#0a1014" stroke-width="1.25"/>
<rect x="1644.6" y="501.82" width="131.9" height="64.8" fill="none" stroke="#000" stroke-width="2.6"/>
<text font-size="69.35" fill="#000" stroke="#fff" stroke-width="0.5"><tspan x="1810.98" y="557.82" textLength="34.17" lengthAdjust="spacingAndGlyphs">D</tspan><tspan x="1845.24" y="557.82" textLength="32.36" lengthAdjust="spacingAndGlyphs">W</tspan><tspan x="1878.1" y="557.82" textLength="34.15" lengthAdjust="spacingAndGlyphs">M</tspan><tspan x="1912.72" y="557.82" textLength="31.66" lengthAdjust="spacingAndGlyphs">A</tspan><tspan x="1945.35" y="557.82" textLength="32.38" lengthAdjust="spacingAndGlyphs">R</tspan><tspan x="1977.01" y="544.95" textLength="37.47" lengthAdjust="spacingAndGlyphs" font-size="49.47">-</tspan><tspan x="2012.16" y="557.82" textLength="34.51" lengthAdjust="spacingAndGlyphs">P</tspan><tspan x="2046.18" y="557.82" textLength="34.17" lengthAdjust="spacingAndGlyphs">D</tspan></text>
</g>
<g id="captions">
<text y="1779.3" font-size="88" fill="#000"><tspan x="526.16" textLength="26.84" lengthAdjust="spacingAndGlyphs">(</tspan><tspan x="552.26" textLength="42.53" lengthAdjust="spacingAndGlyphs" font-weight="bold">a</tspan><tspan x="594.43" textLength="26.58" lengthAdjust="spacingAndGlyphs">)</tspan> <tspan x="642.04" textLength="138.18" lengthAdjust="spacingAndGlyphs">NO</tspan><tspan x="778.46" textLength="24.95" lengthAdjust="spacingAndGlyphs" font-size="50">x</tspan> <tspan x="825.15" textLength="255.84" lengthAdjust="spacingAndGlyphs" font-size="84.48">release</tspan> <tspan x="1099.05" textLength="173.95" lengthAdjust="spacingAndGlyphs" font-size="84.48">from</tspan> <tspan x="1298.45" textLength="318.89" lengthAdjust="spacingAndGlyphs" font-size="84.48">different</tspan> <tspan x="1638.47" textLength="300.6" lengthAdjust="spacingAndGlyphs" font-size="84.48">samples</tspan></text>
<text y="3622.4" font-size="88" fill="#000"><tspan x="90.95" textLength="29.17" lengthAdjust="spacingAndGlyphs">(</tspan><tspan x="125.47" textLength="45.23" lengthAdjust="spacingAndGlyphs" font-weight="bold">b</tspan><tspan x="169.8" textLength="27.88" lengthAdjust="spacingAndGlyphs">)</tspan> <tspan x="219.48" textLength="139.22" lengthAdjust="spacingAndGlyphs">The</tspan> <tspan x="380.44" textLength="439.2" lengthAdjust="spacingAndGlyphs" font-size="84.48">relationship</tspan> <tspan x="847.7" textLength="304.68" lengthAdjust="spacingAndGlyphs" font-size="84.48">between</tspan> <tspan x="1173.48" textLength="351.22" lengthAdjust="spacingAndGlyphs" font-size="84.48">purifying</tspan> <tspan x="1544.11" textLength="202.54" lengthAdjust="spacingAndGlyphs" font-size="84.48">agent</tspan> <tspan x="1768.27" textLength="263.52" lengthAdjust="spacingAndGlyphs" font-size="84.48">dosage</tspan> <tspan x="2049.59" textLength="140.2" lengthAdjust="spacingAndGlyphs" font-size="84.48">and</tspan> <tspan x="2211.05" textLength="137.86" lengthAdjust="spacingAndGlyphs">NO</tspan><tspan x="2346.46" textLength="25.16" lengthAdjust="spacingAndGlyphs" font-size="50">x</tspan></text>
</g>
<g id="chart-b">
<path d="M709.65 2156.15L1070.25 2677.34M1102.6 2699.6L1446.3 2783.78M1487.15 2793.54L1830.75 2873.55" stroke="#0000ff" stroke-width="1.45" fill="none"/>
<path d="M709.07 2156.53L1070.83 2718.63M1101.9 2743.56L1447 2871.03M1487.42 2881.72L1830.48 2938.19" stroke="#0000ff" stroke-width="1.45" fill="none"/>
<path d="M710.45 2292.95L1069.45 2762.82M1102.03 2786.44L1446.87 2906.89M1487.47 2916.9L1830.43 2967.84" stroke="#ff0000" stroke-width="1.45" fill="none"/>
<path d="M709.72 2293.49L1070.18 2810.14M1102.71 2831.89L1446.19 2907.74M1486.72 2918.62L1831.18 3027.87" stroke="#ff0000" stroke-width="1.45" fill="none"/>
<rect x="687.2" y="2128.38" width="21" height="21" fill="#fff" stroke="#0000ff" stroke-width="6.4"/>
<rect x="1071.7" y="2684.11" width="21" height="21" fill="#fff" stroke="#0000ff" stroke-width="6.4"/>
<rect x="1456.2" y="2778.27" width="21" height="21" fill="#fff" stroke="#0000ff" stroke-width="6.4"/>
<rect x="1840.7" y="2867.81" width="21" height="21" fill="#fff" stroke="#0000ff" stroke-width="6.4"/>
<polygon points="697.7,2121.48 712.77,2147.58 682.63,2147.58" fill="#fff" stroke="#0000ff" stroke-width="6.5" stroke-linejoin="round"/>
<polygon points="1082.2,2718.89 1097.27,2744.99 1067.13,2744.99" fill="#fff" stroke="#0000ff" stroke-width="6.5" stroke-linejoin="round"/>
<polygon points="1466.7,2860.91 1481.77,2887.01 1451.63,2887.01" fill="#fff" stroke="#0000ff" stroke-width="6.5" stroke-linejoin="round"/>
<polygon points="1851.2,2924.2 1866.27,2950.3 1836.13,2950.3" fill="#fff" stroke="#0000ff" stroke-width="6.5" stroke-linejoin="round"/>
<rect x="687.2" y="2265.76" width="21" height="21" fill="#fff" stroke="#ff0000" stroke-width="6.4"/>
<rect x="1071.7" y="2769.01" width="21" height="21" fill="#fff" stroke="#ff0000" stroke-width="6.4"/>
<rect x="1456.2" y="2903.31" width="21" height="21" fill="#fff" stroke="#ff0000" stroke-width="6.4"/>
<rect x="1840.7" y="2960.43" width="21" height="21" fill="#fff" stroke="#ff0000" stroke-width="6.4"/>
<polygon points="697.7,2258.86 712.77,2284.96 682.63,2284.96" fill="#fff" stroke="#ff0000" stroke-width="6.5" stroke-linejoin="round"/>
<polygon points="1082.2,2809.97 1097.27,2836.07 1067.13,2836.07" fill="#fff" stroke="#ff0000" stroke-width="6.5" stroke-linejoin="round"/>
<polygon points="1466.7,2894.87 1481.77,2920.97 1451.63,2920.97" fill="#fff" stroke="#ff0000" stroke-width="6.5" stroke-linejoin="round"/>
<polygon points="1851.2,3016.82 1866.27,3042.92 1836.13,3042.92" fill="#fff" stroke="#ff0000" stroke-width="6.5" stroke-linejoin="round"/>
<g stroke="#000" stroke-width="4.6" fill="none">
<path d="M505.5 2001V3240.3"/>
<path d="M503.2 3238H2045.75"/>
<path d="M493.8 3237.99H505.5M481 3083.62H505.5M493.8 2929.25H505.5M481 2774.88H505.5M493.8 2620.51H505.5M481 2466.14H505.5M493.8 2311.77H505.5M481 2157.4H505.5M493.8 2003.03H505.5M505.45 3238V3249.8M697.7 3238V3260.5M889.95 3238V3249.8M1082.2 3238V3260.5M1274.45 3238V3249.8M1466.7 3238V3260.5M1658.95 3238V3249.8M1851.2 3238V3260.5M2043.45 3238V3249.8"/>
</g>
<text font-size="54.9" fill="#000" stroke="#fff" stroke-width="0.5"><tspan x="385.51" y="3104.78" textLength="24.32" lengthAdjust="spacingAndGlyphs" font-size="55.19">0</tspan><tspan x="410.23" y="3104.29" textLength="14.63" lengthAdjust="spacingAndGlyphs" font-size="63.03">.</tspan><tspan x="438.3" y="3105.32" textLength="25.71" lengthAdjust="spacingAndGlyphs" font-size="56.24">2</tspan></text>
<text font-size="54.9" fill="#000" stroke="#fff" stroke-width="0.5"><tspan x="385.51" y="2796.04" textLength="24.32" lengthAdjust="spacingAndGlyphs" font-size="55.19">0</tspan><tspan x="410.23" y="2795.55" textLength="14.63" lengthAdjust="spacingAndGlyphs" font-size="63.03">.</tspan><tspan x="439.69" y="2796.58" textLength="22.17" lengthAdjust="spacingAndGlyphs" font-size="56.58">4</tspan></text>
<text font-size="54.9" fill="#000" stroke="#fff" stroke-width="0.5"><tspan x="385.51" y="2487.3" textLength="24.32" lengthAdjust="spacingAndGlyphs" font-size="55.19">0</tspan><tspan x="410.23" y="2486.81" textLength="14.63" lengthAdjust="spacingAndGlyphs" font-size="63.03">.</tspan><tspan x="438.49" y="2487.3" textLength="24.13" lengthAdjust="spacingAndGlyphs" font-size="55.43">6</tspan></text>
<text font-size="54.9" fill="#000" stroke="#fff" stroke-width="0.5"><tspan x="385.51" y="2178.56" textLength="24.32" lengthAdjust="spacingAndGlyphs" font-size="55.19">0</tspan><tspan x="410.23" y="2178.07" textLength="14.63" lengthAdjust="spacingAndGlyphs" font-size="63.03">.</tspan><tspan x="438.71" y="2178.56" textLength="24.32" lengthAdjust="spacingAndGlyphs" font-size="55.19">8</tspan></text>
<text font-size="54.9" fill="#000" stroke="#fff" stroke-width="0.5"><tspan x="658.61" y="3323.06" textLength="24.32" lengthAdjust="spacingAndGlyphs" font-size="55.19">0</tspan><tspan x="683.33" y="3322.57" textLength="14.63" lengthAdjust="spacingAndGlyphs" font-size="63.03">.</tspan><tspan x="711.81" y="3323.06" textLength="24.32" lengthAdjust="spacingAndGlyphs" font-size="55.19">0</tspan></text>
<text font-size="54.9" fill="#000" stroke="#fff" stroke-width="0.5"><tspan x="1043.11" y="3323.06" textLength="24.32" lengthAdjust="spacingAndGlyphs" font-size="55.19">0</tspan><tspan x="1067.83" y="3322.57" textLength="14.63" lengthAdjust="spacingAndGlyphs" font-size="63.03">.</tspan><tspan x="1095.9" y="3323.6" textLength="25.71" lengthAdjust="spacingAndGlyphs" font-size="56.24">2</tspan></text>
<text font-size="54.9" fill="#000" stroke="#fff" stroke-width="0.5"><tspan x="1427.61" y="3323.06" textLength="24.32" lengthAdjust="spacingAndGlyphs" font-size="55.19">0</tspan><tspan x="1452.33" y="3322.57" textLength="14.63" lengthAdjust="spacingAndGlyphs" font-size="63.03">.</tspan><tspan x="1481.79" y="3323.6" textLength="22.17" lengthAdjust="spacingAndGlyphs" font-size="56.58">4</tspan></text>
<text font-size="54.9" fill="#000" stroke="#fff" stroke-width="0.5"><tspan x="1812.11" y="3323.06" textLength="24.32" lengthAdjust="spacingAndGlyphs" font-size="55.19">0</tspan><tspan x="1836.83" y="3322.57" textLength="14.63" lengthAdjust="spacingAndGlyphs" font-size="63.03">.</tspan><tspan x="1865.09" y="3323.06" textLength="24.13" lengthAdjust="spacingAndGlyphs" font-size="55.43">6</tspan></text>
<text font-size="66.71" fill="#000" stroke="#fff" stroke-width="0.65"><tspan x="871.27" y="3407.9" textLength="33.2" lengthAdjust="spacingAndGlyphs">P</tspan><tspan x="904.85" y="3407.9" textLength="29.93" lengthAdjust="spacingAndGlyphs" font-size="62.71">u</tspan><tspan x="937.5" y="3407.9" textLength="27.15" lengthAdjust="spacingAndGlyphs" font-size="62.71">r</tspan><tspan x="974.48" y="3407.9" textLength="18.29" lengthAdjust="spacingAndGlyphs" font-size="62.71">i</tspan><tspan x="1002.96" y="3407.9" textLength="27.15" lengthAdjust="spacingAndGlyphs" font-size="62.71">f</tspan><tspan x="1034.57" y="3406.38" textLength="27.38" lengthAdjust="spacingAndGlyphs" font-size="57.95">y</tspan><tspan x="1071.44" y="3407.9" textLength="18.29" lengthAdjust="spacingAndGlyphs" font-size="62.71">i</tspan><tspan x="1096.85" y="3407.9" textLength="30.79" lengthAdjust="spacingAndGlyphs" font-size="62.71">n</tspan><tspan x="1128.89" y="3406.74" textLength="30.99" lengthAdjust="spacingAndGlyphs" font-size="56.3">g</tspan><tspan x="1162.58" y="3407.9"> </tspan><tspan x="1193.4" y="3407.9" textLength="31.23" lengthAdjust="spacingAndGlyphs" font-size="62.71">a</tspan><tspan x="1225.85" y="3406.74" textLength="30.99" lengthAdjust="spacingAndGlyphs" font-size="56.3">g</tspan><tspan x="1258.85" y="3407.9" textLength="29.84" lengthAdjust="spacingAndGlyphs" font-size="62.71">e</tspan><tspan x="1290.77" y="3407.9" textLength="30.79" lengthAdjust="spacingAndGlyphs" font-size="62.71">n</tspan><tspan x="1326.59" y="3407.9" textLength="22.65" lengthAdjust="spacingAndGlyphs" font-size="62.71">t</tspan><tspan x="1356.5" y="3407.9"> </tspan><tspan x="1387.62" y="3407.9" textLength="30.05" lengthAdjust="spacingAndGlyphs" font-size="62.71">d</tspan><tspan x="1419.73" y="3407.9" textLength="31.27" lengthAdjust="spacingAndGlyphs" font-size="62.71">o</tspan><tspan x="1452.99" y="3407.9" textLength="29.02" lengthAdjust="spacingAndGlyphs" font-size="62.71">s</tspan><tspan x="1484.28" y="3407.9" textLength="31.23" lengthAdjust="spacingAndGlyphs" font-size="62.71">a</tspan><tspan x="1516.73" y="3406.74" textLength="30.99" lengthAdjust="spacingAndGlyphs" font-size="56.3">g</tspan><tspan x="1549.73" y="3407.9" textLength="29.84" lengthAdjust="spacingAndGlyphs" font-size="62.71">e</tspan><tspan x="1593.01" y="3401.08" textLength="20.11" lengthAdjust="spacingAndGlyphs" font-size="62.38">(</tspan><tspan x="1613.62" y="3407.67" textLength="35.21" lengthAdjust="spacingAndGlyphs" font-size="66.24">%</tspan><tspan x="1646.73" y="3401.08" textLength="20.11" lengthAdjust="spacingAndGlyphs" font-size="62.38">)</tspan></text>
<text font-size="69.14" fill="#000" transform="translate(340.6,2743) rotate(-90)" stroke="#fff" stroke-width="0.65"><tspan x="0.02" y="0" textLength="33.2" lengthAdjust="spacingAndGlyphs">N</tspan><tspan x="32.84" y="0" textLength="36.16" lengthAdjust="spacingAndGlyphs">O</tspan><tspan x="68.58" y="18.7" textLength="22.84" lengthAdjust="spacingAndGlyphs" font-size="45.98">X</tspan><tspan x="91.79" y="0"> </tspan><tspan x="136.61" y="-7.06" textLength="20.85" lengthAdjust="spacingAndGlyphs" font-size="64.65">(</tspan><tspan x="158.51" y="0" textLength="35.16" lengthAdjust="spacingAndGlyphs" font-size="65">m</tspan><tspan x="191.54" y="-1.21" textLength="32.12" lengthAdjust="spacingAndGlyphs" font-size="58.36">g</tspan><tspan x="228.47" y="4.55" textLength="28.14" lengthAdjust="spacingAndGlyphs" font-size="82.63">/</tspan><tspan x="259.01" y="0" textLength="35.16" lengthAdjust="spacingAndGlyphs" font-size="65">m</tspan><tspan x="292.55" y="-10.01" textLength="17.79" lengthAdjust="spacingAndGlyphs" font-size="58">³</tspan><tspan x="326.28" y="-7.06" textLength="20.85" lengthAdjust="spacingAndGlyphs" font-size="64.65">)</tspan></text>
<rect x="1581.2" y="2022.1" width="436" height="292.6" fill="none" stroke="#000" stroke-width="1.3"/>
<path d="M1589.5 2062.9H1636M1673 2062.9H1719" stroke="#0000ff" stroke-width="1.45" fill="none"/>
<rect x="1643.8" y="2052.4" width="21" height="21" fill="#fff" stroke="#0000ff" stroke-width="6.4"/>
<text font-size="66.05" fill="#000" stroke="#fff" stroke-width="0.5"><tspan x="1750.98" y="2085.3" textLength="32.54" lengthAdjust="spacingAndGlyphs">D</tspan><tspan x="1783.87" y="2085.3" textLength="30.15" lengthAdjust="spacingAndGlyphs">A</tspan><tspan x="1814.95" y="2085.3" textLength="30.84" lengthAdjust="spacingAndGlyphs">R</tspan><tspan x="1845.1" y="2073.04" textLength="35.69" lengthAdjust="spacingAndGlyphs" font-size="47.12">-</tspan><tspan x="1879.01" y="2085.3" textLength="33.7" lengthAdjust="spacingAndGlyphs">L</tspan><tspan x="1910.98" y="2085.3" textLength="32.54" lengthAdjust="spacingAndGlyphs">D</tspan></text>
<path d="M1589.5 2133.6H1636M1673 2133.6H1719" stroke="#0000ff" stroke-width="1.45" fill="none"/>
<polygon points="1654.3,2116.5 1669.37,2142.6 1639.23,2142.6" fill="#fff" stroke="#0000ff" stroke-width="6.5" stroke-linejoin="round"/>
<text font-size="66.05" fill="#000" stroke="#fff" stroke-width="0.5"><tspan x="1750.98" y="2156" textLength="32.54" lengthAdjust="spacingAndGlyphs">D</tspan><tspan x="1783.87" y="2156" textLength="30.15" lengthAdjust="spacingAndGlyphs">A</tspan><tspan x="1814.95" y="2156" textLength="30.84" lengthAdjust="spacingAndGlyphs">R</tspan><tspan x="1845.1" y="2143.74" textLength="35.69" lengthAdjust="spacingAndGlyphs" font-size="47.12">-</tspan><tspan x="1878.58" y="2156" textLength="32.87" lengthAdjust="spacingAndGlyphs">P</tspan><tspan x="1910.98" y="2156" textLength="32.54" lengthAdjust="spacingAndGlyphs">D</tspan></text>
<path d="M1589.5 2204.3H1636M1673 2204.3H1719" stroke="#ff0000" stroke-width="1.45" fill="none"/>
<rect x="1643.8" y="2193.8" width="21" height="21" fill="#fff" stroke="#ff0000" stroke-width="6.4"/>
<text font-size="66.05" fill="#000" stroke="#fff" stroke-width="0.5"><tspan x="1750.98" y="2226.7" textLength="32.54" lengthAdjust="spacingAndGlyphs">D</tspan><tspan x="1783.61" y="2226.7" textLength="30.82" lengthAdjust="spacingAndGlyphs">W</tspan><tspan x="1814.91" y="2226.7" textLength="32.53" lengthAdjust="spacingAndGlyphs">M</tspan><tspan x="1847.87" y="2226.7" textLength="30.15" lengthAdjust="spacingAndGlyphs">A</tspan><tspan x="1878.95" y="2226.7" textLength="30.84" lengthAdjust="spacingAndGlyphs">R</tspan><tspan x="1909.1" y="2214.44" textLength="35.69" lengthAdjust="spacingAndGlyphs" font-size="47.12">-</tspan><tspan x="1943.01" y="2226.7" textLength="33.7" lengthAdjust="spacingAndGlyphs">L</tspan><tspan x="1974.98" y="2226.7" textLength="32.54" lengthAdjust="spacingAndGlyphs">D</tspan></text>
<path d="M1589.5 2275H1636M1673 2275H1719" stroke="#ff0000" stroke-width="1.45" fill="none"/>
<polygon points="1654.3,2257.9 1669.37,2284 1639.23,2284" fill="#fff" stroke="#ff0000" stroke-width="6.5" stroke-linejoin="round"/>
<text font-size="66.05" fill="#000" stroke="#fff" stroke-width="0.5"><tspan x="1750.98" y="2297.4" textLength="32.54" lengthAdjust="spacingAndGlyphs">D</tspan><tspan x="1783.61" y="2297.4" textLength="30.82" lengthAdjust="spacingAndGlyphs">W</tspan><tspan x="1814.91" y="2297.4" textLength="32.53" lengthAdjust="spacingAndGlyphs">M</tspan><tspan x="1847.87" y="2297.4" textLength="30.15" lengthAdjust="spacingAndGlyphs">A</tspan><tspan x="1878.95" y="2297.4" textLength="30.84" lengthAdjust="spacingAndGlyphs">R</tspan><tspan x="1909.1" y="2285.14" textLength="35.69" lengthAdjust="spacingAndGlyphs" font-size="47.12">-</tspan><tspan x="1942.58" y="2297.4" textLength="32.87" lengthAdjust="spacingAndGlyphs">P</tspan><tspan x="1974.98" y="2297.4" textLength="32.54" lengthAdjust="spacingAndGlyphs">D</tspan></text>
</g>
</svg>
</body>
</html>
